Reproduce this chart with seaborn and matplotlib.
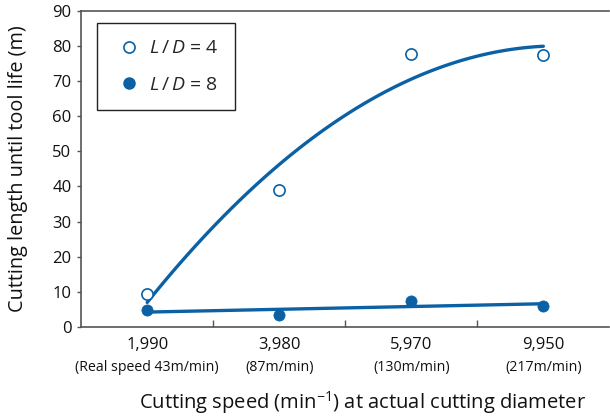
import numpy as np
import pandas as pd
import matplotlib
matplotlib.use("Agg")
import matplotlib.pyplot as plt
from matplotlib.lines import Line2D
import matplotlib.transforms as mtransforms
import seaborn as sns

# Spindle speeds (min^-1) and the real cutting speed at each one
speeds = ["1,990", "3,980", "5,970", "9,950"]
real_speeds = ["(Real speed 43m/min)", "(87m/min)", "(130m/min)", "(217m/min)"]

# Cutting length until tool life (m)
life_ld4 = [9.4, 39.0, 77.8, 77.5]
life_ld8 = [4.8, 3.4, 7.4, 6.1]

sns.set_style("ticks")
plt.rcParams["font.family"] = ["Open Sans", "DejaVu Sans"]
plt.rcParams["mathtext.fontset"] = "custom"
plt.rcParams["mathtext.rm"] = "Open Sans"
plt.rcParams["mathtext.it"] = "Open Sans:italic"

blue = "#0b61a4"
spine_col = "#555555"
text_col = "#111111"

pos = np.arange(len(speeds))
df = pd.DataFrame({"pos": pos, "ld4": life_ld4, "ld8": life_ld8})

fig = plt.figure(figsize=(6.10, 4.16), dpi=100)
ax = fig.add_axes([0.133, 0.214, 0.866, 0.760])

# Trend curves: quadratic for L/D=4, straight line for L/D=8
sns.regplot(data=df, x="pos", y="ld4", order=2, ci=None, scatter=False,
            truncate=True, color=blue, line_kws={"lw": 2.4}, ax=ax)
sns.regplot(data=df, x="pos", y="ld8", order=1, ci=None, scatter=False,
            truncate=True, color=blue, line_kws={"lw": 2.4}, ax=ax)

# Measured points
sns.scatterplot(data=df, x="pos", y="ld4", s=65, marker="o",
                facecolor="white", edgecolor=blue, linewidth=1.2, zorder=3, ax=ax)
sns.scatterplot(data=df, x="pos", y="ld8", s=65, marker="o",
                color=blue, edgecolor=blue, linewidth=0.5, zorder=3, ax=ax)

ax.set_xlim(-0.5, 3.5)
ax.set_ylim(0, 90)
ax.set_yticks(np.arange(0, 91, 10))
ax.set_xticks(pos)
ax.set_xticklabels(speeds, fontsize=12, color=text_col)
ax.set_xticks(pos[:-1] + 0.5, minor=True)
ax.tick_params(axis="x", which="major", length=0, pad=7)
ax.tick_params(axis="x", which="minor", direction="in", length=5,
               width=1, color=spine_col)
ax.tick_params(axis="y", which="major", direction="out", length=3,
               width=1, color=spine_col, labelsize=12, labelcolor=text_col, pad=4)

for side in ["left", "bottom", "top"]:
    ax.spines[side].set_color(spine_col)
    ax.spines[side].set_linewidth(1.2)
ax.spines["right"].set_visible(False)

# Real cutting speed under each spindle speed
trans = mtransforms.blended_transform_factory(ax.transData, ax.transAxes)
for p, txt in zip(pos, real_speeds):
    ax.text(p, -0.127, txt, transform=trans, ha="center", va="center",
            fontsize=10.2, color=text_col)

ax.set_xlabel("Cutting speed (min$^{-1}$) at actual cutting diameter",
              fontsize=14.5, color=text_col, va="center")
ax.xaxis.set_label_coords(0.532, -0.240)
ax.set_ylabel("Cutting length until tool life (m)", fontsize=14.3,
              color=text_col, va="center")
ax.yaxis.set_label_coords(-0.119, 0.5)

handles = [
    Line2D([], [], ls="none", marker="o", ms=8, mfc="white", mec=blue, mew=1.2),
    Line2D([], [], ls="none", marker="o", ms=8, mfc=blue, mec=blue),
]
labels = ["$L\\,/\\,D$ = 4", "$L\\,/\\,D$ = 8"]
leg = ax.legend(handles, labels, loc="upper left", bbox_to_anchor=(0.030, 0.962),
                fontsize=14, frameon=True, fancybox=False, framealpha=1,
                edgecolor="#222222", borderpad=0.85, labelspacing=0.95,
                handletextpad=0.25, handlelength=1.6, borderaxespad=0)
leg.get_frame().set_linewidth(1.0)

fig.savefig("out.png", dpi=100)
